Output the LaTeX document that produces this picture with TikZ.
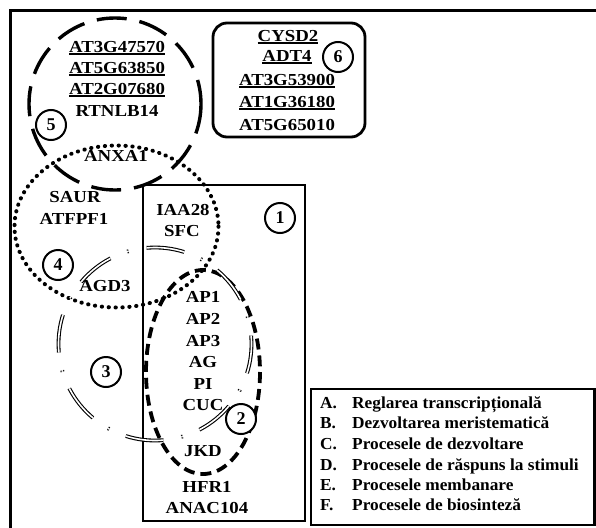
\documentclass[tikz,border=0pt]{standalone}
\usepackage{fontspec}
\setmainfont{Liberation Serif}
\newfontfamily\genefam{Liberation Serif}[FakeStretch=1.12]
\newfontfamily\legfam{Liberation Serif}[FakeStretch=1.03]
\newcommand\gul[1]{\setbox0=\hbox{#1}\dimen0=\wd0 \copy0\kern-\dimen0\rule[-2.2pt]{\dimen0}{1.3pt}}
\begin{document}
\begin{tikzpicture}[x=1pt,y=-1pt,
  gene/.style={font=\genefam\bfseries\fontsize{16.8}{20}\selectfont, inner sep=0pt, anchor=base},
  leg/.style={font=\legfam\bfseries\fontsize{16.8}{20}\selectfont, inner sep=0pt, anchor=base west},
  numc/.style={circle, draw, fill=white, line width=2pt, minimum size=30pt, inner sep=0pt, font=\bfseries\fontsize{18}{20}\selectfont},
  outerframe/.style={line width=3pt},
  plainbox/.style={line width=2.8pt},
  longdash/.style={line width=3.4pt, dash pattern=on 30pt off 13pt},
  dotline/.style={line width=4pt, line cap=round, dash pattern=on 0.3pt off 6.6pt},
  shortdash/.style={line width=3.8pt, dash pattern=on 11pt off 6pt},
  dashdotdouble/.style={double, line width=1.1pt, double distance=1.6pt, dash pattern=on 38pt off 18pt on 1.5pt off 18.3pt}
]
\useasboundingbox (0,0) rectangle (596,527);
\clip (0,0) rectangle (596,527);
% frames
\draw[outerframe] (10,11) rectangle (620,550);
\draw[plainbox, rounded corners=14pt] (213,23) rectangle (365,137);
\draw[plainbox] (143,185) rectangle (305,521);
\draw[plainbox] (311,389) rectangle (594.5,525);
% sets
\draw[longdash] (115,104) circle[radius=86];
\draw[dotline] (116.5,226.5) ellipse[x radius=102, y radius=81];
\draw[shortdash] (203,372) ellipse[x radius=57, y radius=102];
\draw[dashdotdouble] (155,344) ++(-185:96.5) arc[start angle=-185, end angle=175, radius=96.5];
% group 5
\node[gene] (g1) at (117,52.5) {\gul{AT3G47570}};
\node[gene] (g2) at (117,73.5) {\gul{AT5G63850}};
\node[gene] (g3) at (117,94.5) {\gul{AT2G07680}};
\node[gene] (g4) at (117,116.5) {RTNLB14};
\node[gene] (g5) at (116,161.5) {ANXA1};
\node[gene] (g6) at (75,202.5) {SAUR};
\node[gene] (g7) at (74,224.5) {ATFPF1};
\node[gene] (g8) at (105,291.5) {AGD3};
\node[gene] (g9) at (183,215.5) {IAA28};
\node[gene] (g10) at (182,236.5) {SFC};
\node[gene] (g11) at (203,302.5) {AP1};
\node[gene] (g12) at (203,324.5) {AP2};
\node[gene] (g13) at (203,346.5) {AP3};
\node[gene] (g14) at (203,367.5) {AG};
\node[gene] (g15) at (203,389.5) {PI};
\node[gene] (g16) at (203,410.5) {CUC};
\node[gene] (g17) at (203,456.5) {JKD};
\node[gene] (g18) at (207,492.5) {HFR1};
\node[gene] (g19) at (207,513.5) {ANAC104};
% box 6
\node[gene] (h1) at (288,41.5) {\gul{CYSD2}};
\node[gene] (h2) at (287,61.5) {\gul{ADT4}};
\node[gene] (h3) at (287,85.5) {\gul{AT3G53900}};
\node[gene] (h4) at (287,107.5) {\gul{AT1G36180}};
\node[gene] (h5) at (287,130.5) {AT5G65010};
% numbers
\node[numc] (n1) at (280,218) {1};
\node[numc] (n2) at (241,419) {2};
\node[numc] (n3) at (106,372) {3};
\node[numc] (n4) at (58,265) {4};
\node[numc] (n5) at (51,125) {5};
\node[numc] (n6) at (338,57) {6};
% legend
\node[leg] (la) at (320,408.5) {A.};
\node[leg] (lb) at (320,428.5) {B.};
\node[leg] (lc) at (320,449.5) {C.};
\node[leg] (ld) at (320,470.5) {D.};
\node[leg] (le) at (320,490.5) {E.};
\node[leg] (lf) at (320,510.5) {F.};
\node[leg] (ta) at (352,408.5) {Reglarea transcripțională};
\node[leg] (tb) at (352,428.5) {Dezvoltarea meristematică};
\node[leg] (tc) at (352,449.5) {Procesele de dezvoltare};
\node[leg] (td) at (352,470.5) {Procesele de răspuns la stimuli};
\node[leg] (te) at (352,490.5) {Procesele membanare};
\node[leg] (tf) at (352,510.5) {Procesele de biosinteză};
\end{tikzpicture}
\end{document}
